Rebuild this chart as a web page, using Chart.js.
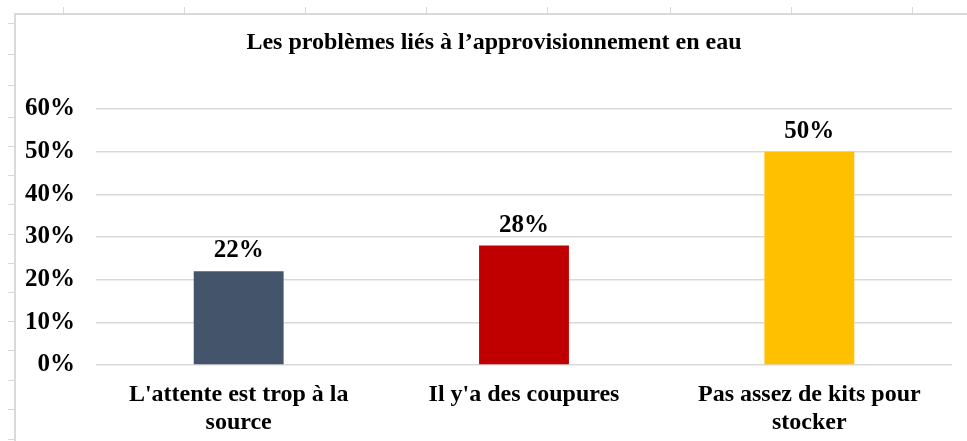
<!DOCTYPE html>
<html>
<head>
<meta charset="utf-8">
<script src="https://cdn.jsdelivr.net/npm/chart.js@4"></script>
<style>
  body { margin: 0; background: #fff; }
  #wrap { width: 967px; height: 441px; }
</style>
</head>
<body>
<div id="wrap"><canvas id="waterChart"></canvas></div>
<script>
let categories = [
  ["L'attente est trop à la", "source"],
  "Il y'a des coupures",
  ["Pas assez de kits pour", "stocker"]
];
let values = [22, 28, 50];
let barColors = ['#44546A', '#C00000', '#FFC000'];
let tickValues = [0, 10, 20, 30, 40, 50, 60];
let chartTitle = 'Les problèmes liés à l’approvisionnement en eau';

let serif = "'Liberation Serif', 'Times New Roman', serif";

// cadre et repères de cellules Excel autour du graphique
let sheetFrame = {
  id: 'sheetFrame',
  beforeDraw(chart) {
    let ctx = chart.ctx;
    ctx.save();
    ctx.strokeStyle = '#d9d9d9';
    ctx.lineWidth = 1;
    [63, 184, 305, 426, 547, 670, 791, 912].forEach(x => {
      ctx.beginPath();
      ctx.moveTo(x + 0.5, 7);
      ctx.lineTo(x + 0.5, 13);
      ctx.stroke();
    });
    [23, 54, 85, 117, 146, 175, 204, 234, 263, 292, 321, 350, 380, 409, 439].forEach(y => {
      ctx.beginPath();
      ctx.moveTo(8, y + 0.5);
      ctx.lineTo(14, y + 0.5);
      ctx.stroke();
    });
    ctx.lineWidth = 2;
    ctx.beginPath();
    ctx.moveTo(15, 441);
    ctx.lineTo(15, 14);
    ctx.lineTo(967, 14);
    ctx.stroke();

    // titre, centré sur la zone du graphique Excel
    ctx.font = 'bold 24px ' + serif;
    ctx.fillStyle = '#000';
    ctx.textAlign = 'center';
    ctx.textBaseline = 'middle';
    ctx.fillText(chartTitle, 494, 43);
    ctx.restore();
  }
};

// étiquettes de valeur au-dessus des barres
let valueLabels = {
  id: 'valueLabels',
  afterDatasetsDraw(chart) {
    let ctx = chart.ctx;
    let meta = chart.getDatasetMeta(0);
    ctx.save();
    ctx.font = 'bold 25px ' + serif;
    ctx.fillStyle = '#000';
    ctx.textAlign = 'center';
    ctx.textBaseline = 'alphabetic';
    meta.data.forEach((bar, i) => {
      ctx.fillText(values[i] + '%', bar.x, bar.y - 14);
    });
    ctx.restore();
  }
};

let ctx = document.getElementById('waterChart').getContext('2d');
new Chart(ctx, {
  type: 'bar',
  data: {
    labels: categories,
    datasets: [{
      data: values,
      backgroundColor: barColors,
      categoryPercentage: 1,
      barPercentage: 0.315
    }]
  },
  options: {
    responsive: true,
    maintainAspectRatio: false,
    animation: false,
    layout: { padding: { left: 14, right: 15, top: 109, bottom: 0 } },
    plugins: {
      legend: { display: false },
      tooltip: { enabled: false },
      title: { display: false }
    },
    scales: {
      x: {
        grid: { display: false },
        border: { display: false },
        ticks: {
          color: '#000',
          font: { family: serif, size: 24, weight: 'bold', lineHeight: 1.17 },
          padding: 8,
          maxRotation: 0,
          autoSkip: false
        },
        afterFit(scale) { scale.height = 76; }
      },
      y: {
        min: 0,
        max: 60,
        afterBuildTicks(scale) {
          scale.ticks = tickValues.map(v => ({ value: v }));
        },
        grid: { color: '#d9d9d9', lineWidth: 1.5, drawTicks: false },
        border: { display: false },
        ticks: {
          color: '#000',
          font: { family: serif, size: 25, weight: 'bold' },
          padding: 21,
          callback: v => v + '%'
        },
        afterFit(scale) { scale.width = 82; }
      }
    }
  },
  plugins: [sheetFrame, valueLabels]
});
</script>
</body>
</html>
